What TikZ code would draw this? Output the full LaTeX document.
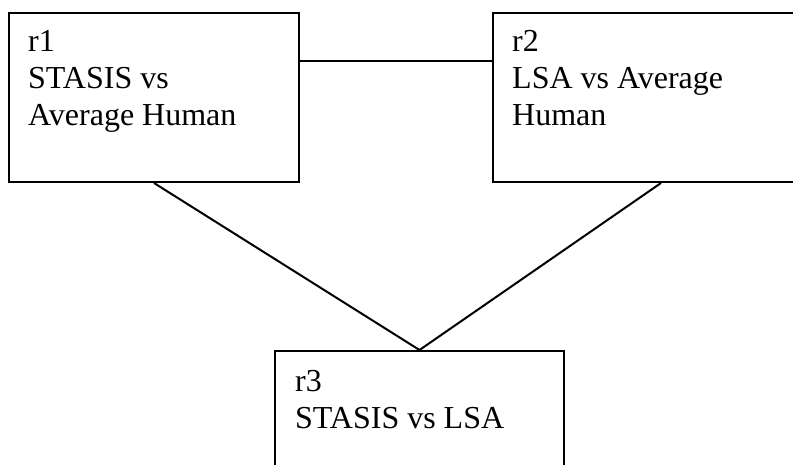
\documentclass[tikz,border=0pt]{standalone}
\usepackage{fontspec}
\setmainfont{Liberation Serif}
\usetikzlibrary{calc}
\begin{document}
\begin{tikzpicture}[x=1pt,y=1pt,
  box/.style={draw=black, line width=2pt, rectangle, inner sep=0pt, anchor=north west},
  lbl/.style={inner sep=0pt, anchor=base west, align=left, font=\fontsize{32}{37}\selectfont},
  conn/.style={draw=black, line width=2pt}]
\useasboundingbox (0,0) rectangle (793,-465);
\clip (0,0) rectangle (793,-465);
\fill[white] (0,0) rectangle (793,-465);
\node[box, minimum width=290pt, minimum height=169pt] (r1) at (8,-12) {};
\node[box, minimum width=336pt, minimum height=169pt] (r2) at (492,-12) {};
\node[box, minimum width=289pt, minimum height=169pt] (r3) at (274,-350) {};
\node[lbl] (t1) at (28,-126) {r1\\STASIS vs\\Average Human};
\node[lbl] (t2) at (512,-126) {r2\\LSA vs Average\\Human};
\node[lbl] (t3) at (295,-428) {r3\\STASIS vs LSA};
\coordinate (a1) at ($(r1.north east)!0.284!(r1.south east)$);
\draw[conn] (a1) -- (a1 -| r2.west);
\draw[conn] (r1.south) -- (r3.north);
\draw[conn] (r2.south) -- (r3.north);
\end{tikzpicture}
\end{document}
